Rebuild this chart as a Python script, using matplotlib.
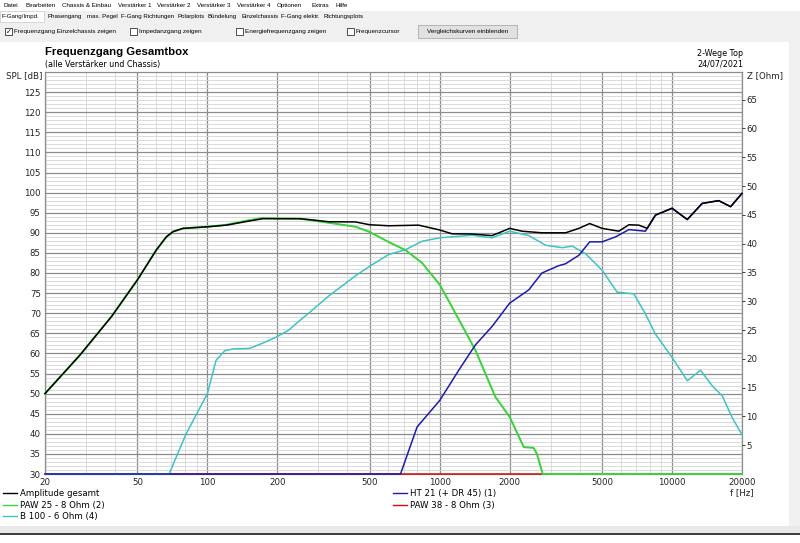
import numpy as np
import matplotlib.pyplot as plt
from matplotlib.patches import Rectangle
from matplotlib.ticker import FixedLocator, NullFormatter

W, H = 800, 543

# --- data (frequency in Hz, SPL in dB) ---
f_total = [20, 28.3, 38.7, 50, 60.4, 66.6, 71.2, 78.6, 100, 120.8, 147, 173, 200, 250, 273,
           333, 434, 500, 603, 812, 1000, 1130, 1375, 1680, 2000, 2260, 2753, 3480, 3970,
           4420, 5000, 5900, 6520, 7200, 7820, 8480, 10000, 11630, 13470, 15870, 17870, 20000]
spl_total = [50, 59.6, 69.2, 78.3, 85.8, 89, 90.3, 91.1, 91.5, 91.9, 92.8, 93.5, 93.5, 93.5, 93.3,
             92.75, 92.7, 92, 91.75, 91.9, 90.7, 89.75, 89.7, 89.3, 91.1, 90.4, 90, 90, 91.1,
             92.3, 91.1, 90.4, 92, 91.9, 91.1, 94.4, 96.1, 93.3, 97.3, 98, 96.5, 99.8]

f_paw25 = [20, 28.3, 38.7, 50, 60.4, 66.6, 71.2, 78.6, 100, 120.8, 147, 173, 200, 250, 333,
           434, 500, 603, 712, 840, 1000, 1168, 1424, 1735, 2000, 2300, 2534, 2620, 2775, 20000]
spl_paw25 = [50, 59.6, 69.2, 78.3, 85.8, 89, 90.3, 91.1, 91.5, 92.0, 93.0, 93.7, 93.6, 93.5, 92.5,
             91.5, 90.2, 87.7, 85.7, 82.5, 77.1, 70, 60.8, 49.2, 44.2, 36.7, 36.5, 35, 30, 30]

f_b100 = [20, 68.4, 81, 100, 109, 119, 129, 152, 179, 200, 224, 250, 273, 333, 434, 500, 603,
          712, 840, 1000, 1375, 1680, 2000, 2417, 2860, 3370, 3720, 4240, 5000, 5800, 6850,
          7680, 8480, 10000, 11630, 13250, 14920, 16460, 18150, 20000]
spl_b100 = [30, 30, 40, 50, 58.3, 60.7, 61.1, 61.25, 62.9, 64.2, 65.8, 68.2, 70, 74.3, 79.3, 81.7, 84.6,
            85.8, 87.9, 88.75, 89.4, 88.75, 90.4, 89.3, 86.9, 86.3, 86.7, 84.8, 80.7, 75.25, 74.8,
            69.8, 64.8, 59, 53.2, 55.8, 51.9, 49.4, 44, 39.8]

f_ht21 = [20, 678, 799, 1000, 1207, 1424, 1680, 2000, 2417, 2753, 3247, 3480, 3970, 4420, 5000,
          5720, 6520, 7680, 8480, 10000, 11630, 13470, 15870, 17870, 20000]
spl_ht21 = [30, 30, 41.7, 48.3, 55.8, 62.1, 66.7, 72.5, 75.8, 80, 81.8, 82.3, 84.4, 87.75, 87.75,
            89, 90.8, 90.4, 94.4, 96.1, 93.3, 97.3, 98, 96.5, 99.8]

f_paw38 = [20, 20000]
spl_paw38 = [30, 30]

x_major = [20, 50, 100, 200, 500, 1000, 2000, 5000, 10000, 20000]
x_minor = [30, 40, 60, 70, 80, 90, 300, 400, 600, 700, 800, 900,
           3000, 4000, 6000, 7000, 8000, 9000]
spl_ticks = list(range(30, 126, 5))
z_ticks = list(range(5, 66, 5))

menu = ["Datei", "Bearbeiten", "Chassis & Einbau", "Verstärker 1", "Verstärker 2",
        "Verstärker 3", "Verstärker 4", "Optionen", "Extras", "Hilfe"]
menu_x = [3, 25, 62, 118, 157, 197, 237, 277, 311, 336]
tabs = ["F-Gang/Impd.", "Phasengang", "max. Pegel", "F-Gang Richtungen", "Polarplots",
        "Bündelung", "Einzelchassis", "F-Gang elektr.", "Richtungsplots"]
tabs_x = [2, 48, 87, 121, 177, 208, 241, 281, 323]
checks = ["Frequenzgang Einzelchassis zeigen", "Impedanzgang zeigen",
          "Energiefrequenzgang zeigen", "Frequenzcursor"]
checks_x = [5, 130, 236, 347]


def fx(x):
    return x / W


def fy(y):
    return 1 - y / H


plt.rcParams['font.family'] = ['DejaVu Sans']
UI = ['Liberation Sans', 'DejaVu Sans']
fig = plt.figure(figsize=(8, 5.43), dpi=100)
fig.patch.set_facecolor('white')

# window chrome
def rect(x0, y0, x1, y1, fc, ec='none', lw=0.6):
    fig.patches.append(Rectangle((fx(x0), fy(y1)), fx(x1 - x0), (y1 - y0) / H,
                                 transform=fig.transFigure, facecolor=fc, edgecolor=ec,
                                 linewidth=lw, zorder=0))

rect(0, 11, 800, 42, '#f0f0f0')
rect(0, 11, 44, 22, 'white', '#d0d0d0')
rect(789, 42, 800, 528, '#f0f0f0')
rect(0, 526, 800, 533, '#e8e8e8')
rect(0, 533, 800, 534.5, '#404040')
rect(418, 25, 517, 38, '#e1e1e1', '#adadad')
for cx in checks_x:
    rect(cx, 28, cx + 7, 35, 'white', '#333333')

for t, x in zip(menu, menu_x):
    fig.text(fx(x), fy(5.5), t, fontsize=4.5, va='center', ha='left', family=UI)
for t, x in zip(tabs, tabs_x):
    fig.text(fx(x), fy(16.5), t, fontsize=4.4, va='center', ha='left', family=UI)
for t, x in zip(checks, checks_x):
    fig.text(fx(x + 9), fy(32), t, fontsize=4.6, va='center', ha='left', family=UI)
fig.text(fx(6.3), fy(32), "✓", fontsize=5, va='center', ha='left')
fig.text(fx(467.5), fy(31.5), "Vergleichskurven einblenden", fontsize=4.6, va='center',
         ha='center', family=UI)

# main plot
ax = fig.add_axes([fx(45), fy(474), fx(742 - 45), (474 - 72) / H])
ax.set_xscale('log')
ax.set_xlim(20, 20000)
ax.set_ylim(30, 130)

lw = 1.1
ax.plot(f_paw38, spl_paw38, color='#d01010', lw=lw, label='PAW 38 - 8 Ohm (3)', zorder=3, clip_on=False)
ax.plot(f_b100, spl_b100, color='#3cc4c4', lw=lw, label='B 100 - 6 Ohm (4)', zorder=4, clip_on=False)
ax.plot(f_paw25, spl_paw25, color='#3cd23c', lw=lw * 1.3, label='PAW 25 - 8 Ohm (2)', zorder=5, clip_on=False)
ax.plot(f_ht21, spl_ht21, color='#1c1caa', lw=lw, label='HT 21 (+ DR 45) (1)', zorder=6, clip_on=False)
ax.plot(f_total, spl_total, color='black', lw=lw, label='Amplitude gesamt', zorder=7, clip_on=False)

ax.xaxis.set_major_locator(FixedLocator(x_major))
ax.xaxis.set_minor_locator(FixedLocator(x_minor))
ax.set_xticklabels([str(v) for v in x_major])
ax.xaxis.set_minor_formatter(NullFormatter())
ax.set_yticks(spl_ticks)
ax.set_yticks(range(30, 131), minor=True)
ax.grid(which='major', color='#8c8c8c', lw=0.9, zorder=1)
ax.grid(which='minor', color='#d4d4d4', lw=0.6, zorder=0)
ax.tick_params(which='both', length=0, labelsize=6.2, colors='#222222', pad=3)
for s in ax.spines.values():
    s.set_color('#8c8c8c')
    s.set_linewidth(0.9)

az = ax.twinx()
az.set_ylim(0, 69.8)
az.set_yticks(z_ticks)
az.tick_params(axis='y', length=2.5, width=0.6, labelsize=6.2, colors='#222222', pad=0.5)
for s in az.spines.values():
    s.set_visible(False)

fig.text(fx(42), fy(76), "SPL [dB]", fontsize=6.2, ha='right', va='center', color='#222222')
fig.text(fx(747), fy(76), "Z [Ohm]", fontsize=6.2, ha='left', va='center', color='#222222')
fig.text(fx(742), fy(493), "f [Hz]", fontsize=6.2, ha='center', va='center', color='#222222')

fig.text(fx(45), fy(52), "Frequenzgang Gesamtbox", fontsize=8.2, fontweight='bold',
         ha='left', va='center', family=UI)
fig.text(fx(45), fy(64), "(alle Verstärker und Chassis)", fontsize=5.8, ha='left', va='center')
fig.text(fx(743), fy(53), "2-Wege Top", fontsize=5.8, ha='right', va='center')
fig.text(fx(743), fy(64), "24/07/2021", fontsize=5.8, ha='right', va='center')

# legend, two blocks below the plot
h, l = ax.get_legend_handles_labels()
lut = dict(zip(l, h))
col1 = ['Amplitude gesamt', 'PAW 25 - 8 Ohm (2)', 'B 100 - 6 Ohm (4)']
col2 = ['HT 21 (+ DR 45) (1)', 'PAW 38 - 8 Ohm (3)']
for names, x in [(col1, 3), (col2, 393)]:
    leg = fig.legend([lut[n] for n in names], names, loc='upper left',
                     bbox_to_anchor=(fx(x), fy(489)), frameon=False, fontsize=6.2,
                     handlelength=1.6, handletextpad=0.4, labelspacing=0.3,
                     borderpad=0, borderaxespad=0)
    for lh in leg.get_lines():
        lh.set_linewidth(1.0)

fig.savefig('out.png', dpi=100)
